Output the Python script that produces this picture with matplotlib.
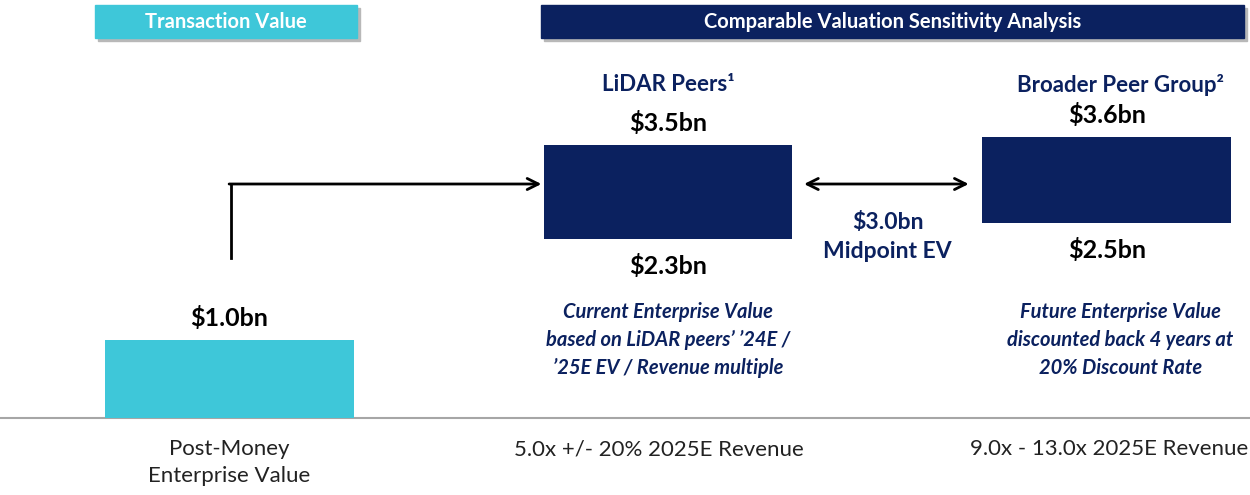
import matplotlib.pyplot as plt
from matplotlib.patches import Rectangle

plt.rcParams['font.family'] = ['Lato', 'DejaVu Sans']

# data
categories = ["Post-Money\nEnterprise Value", "5.0x +/- 20% 2025E Revenue", "9.0x - 13.0x 2025E Revenue"]
lows = [0.0, 2.3, 2.5]
highs = [1.0, 3.5, 3.6]
group_titles = ["", "LiDAR Peers\u00b9", "Broader Peer Group\u00b2"]
notes = ["",
         "Current Enterprise Value\nbased on LiDAR peers\u2019 \u201924E /\n\u201925E EV / Revenue multiple",
         "Future Enterprise Value\ndiscounted back 4 years at\n20% Discount Rate"]
midpoint = 3.0
headers = ["Transaction Value", "Comparable Valuation Sensitivity Analysis"]

navy = "#0B215F"
cyan = "#3EC7D9"
bar_colors = [cyan, navy, navy]

W, H = 1250, 495
fig = plt.figure(figsize=(W / 100, H / 100), dpi=100)
ax = fig.add_axes([0, 0, 1, 1])
ax.set_xlim(-0.522, 2.326)
ax.set_ylim(-0.987, 5.359)
ax.axis('off')

x = [0, 1, 2]
ax.bar(x, [h - l for h, l in zip(highs, lows)], bottom=lows, width=0.567,
       color=bar_colors, zorder=3)
ax.plot([-0.53, 2.33], [0, 0], color="#A6A6A6", lw=1.5, zorder=2)

def fmt(v):
    return f"${v:.1f}bn"

# value labels
for i in x:
    ax.annotate(fmt(highs[i]), (i, highs[i]), xytext=(0, 7), textcoords='offset points',
                ha='center', va='bottom', fontsize=18, fontweight='bold', color='black')
    if lows[i] > 0:
        ax.annotate(fmt(lows[i]), (i, lows[i]), xytext=(0, -11), textcoords='offset points',
                    ha='center', va='top', fontsize=18, fontweight='bold', color='black')

# group titles
ax.text(1, 4.27, group_titles[1], ha='center', va='center', fontsize=16,
        fontweight='bold', color=navy)
ax.text(2.03, 4.27, group_titles[2], ha='center', va='center', fontsize=16,
        fontweight='bold', color=navy)

# notes
ax.text(1, 1.0, notes[1], ha='center', va='center', fontsize=14.5, fontweight='bold',
        style='italic', color=navy, linespacing=1.5)
ax.text(2.03, 1.0, notes[2], ha='center', va='center', fontsize=14.5, fontweight='bold',
        style='italic', color=navy, linespacing=1.5)

# category labels
ax.text(0, -0.27, categories[0], ha='center', va='top', fontsize=16, color='#222222',
        linespacing=1.45)
ax.text(0.98, -0.27, categories[1], ha='center', va='top', fontsize=16, color='#222222')
ax.text(2.005, -0.27, categories[2], ha='center', va='top', fontsize=16, color='#222222')

# arrows
ax.plot([0.005, 0.005], [2.05, midpoint], color='black', lw=2, zorder=4)
ax.annotate("", xy=(1 - 0.567 / 2 - 0.005, midpoint), xytext=(0.0, midpoint),
            arrowprops=dict(arrowstyle='->', color='black', lw=2, mutation_scale=20,
                            shrinkA=0, shrinkB=0))
ax.annotate("", xy=(1.685, midpoint), xytext=(1.31, midpoint),
            arrowprops=dict(arrowstyle='<->', color='black', lw=2, mutation_scale=20,
                            shrinkA=0, shrinkB=0))
ax.text(1.5, 2.32, f"{fmt(midpoint)}\nMidpoint EV", ha='center', va='center', fontsize=16.5,
        fontweight='bold', color=navy, linespacing=1.5)

# header boxes
def header(x0, x1, y0, y1, color, text):
    fx, fy = x0 / W, 1 - y1 / H
    fw, fh = (x1 - x0) / W, (y1 - y0) / H
    fig.patches.append(Rectangle((fx + 3 / W, fy - 3 / H), fw, fh, transform=fig.transFigure,
                                 color='#B8B8B8', zorder=1))
    fig.patches.append(Rectangle((fx, fy), fw, fh, transform=fig.transFigure,
                                 color=color, zorder=2))
    fig.text(fx + fw / 2, fy + fh / 2, text, ha='center', va='center', fontsize=14.5,
             fontweight='bold', color='white')

header(95, 357, 5, 38, cyan, headers[0])
header(541, 1244, 5, 38, navy, headers[1])

fig.savefig("out.png", dpi=100)
